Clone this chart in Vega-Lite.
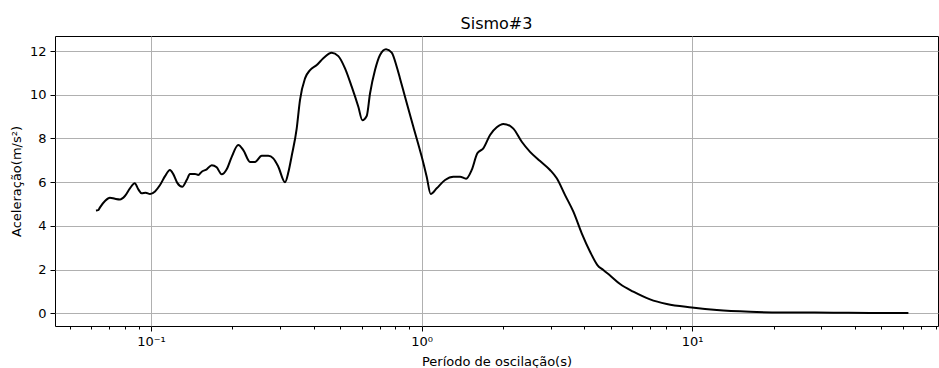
{
  "$schema": "https://vega.github.io/schema/vega-lite/v6.json",
  "width": 883,
  "height": 290,
  "autosize": {"type": "none"},
  "padding": {"left": 55, "top": 36, "right": 1, "bottom": 42},
  "background": "white",
  "config": {
    "font": "DejaVu Sans",
    "view": {"stroke": "black", "strokeWidth": 1},
    "axis": {
      "domain": false,
      "tickColor": "black",
      "tickWidth": 1,
      "labelColor": "black",
      "titleColor": "black",
      "labelFont": "DejaVu Sans",
      "titleFont": "DejaVu Sans",
      "labelFontSize": 13,
      "titleFontSize": 13,
      "titleFontWeight": "normal",
      "gridColor": "#b0b0b0",
      "gridWidth": 1,
      "gridOpacity": 1
    }
  },
  "title": {
    "text": "Sismo#3",
    "font": "DejaVu Sans",
    "fontSize": 16,
    "fontWeight": "normal",
    "color": "black",
    "anchor": "middle",
    "baseline": "bottom",
    "offset": 3,
    "dy": 15
  },
  "data": {
    "values": [
      {"T": 0.0626, "a": 4.70}, {"T": 0.0638, "a": 4.72}, {"T": 0.0648, "a": 4.85},
      {"T": 0.0676, "a": 5.14}, {"T": 0.0705, "a": 5.29}, {"T": 0.0736, "a": 5.24},
      {"T": 0.0768, "a": 5.21}, {"T": 0.0801, "a": 5.37}, {"T": 0.0836, "a": 5.72},
      {"T": 0.0871, "a": 5.95}, {"T": 0.0898, "a": 5.67}, {"T": 0.0924, "a": 5.49},
      {"T": 0.0956, "a": 5.52}, {"T": 0.0992, "a": 5.46}, {"T": 0.1035, "a": 5.58},
      {"T": 0.1080, "a": 5.87}, {"T": 0.1127, "a": 6.28}, {"T": 0.1175, "a": 6.56},
      {"T": 0.1209, "a": 6.37}, {"T": 0.1251, "a": 5.97}, {"T": 0.1305, "a": 5.79},
      {"T": 0.1355, "a": 6.10}, {"T": 0.1394, "a": 6.37}, {"T": 0.1455, "a": 6.38},
      {"T": 0.1496, "a": 6.33}, {"T": 0.1540, "a": 6.48}, {"T": 0.1607, "a": 6.59},
      {"T": 0.1677, "a": 6.78}, {"T": 0.1749, "a": 6.68}, {"T": 0.1825, "a": 6.36},
      {"T": 0.1905, "a": 6.59}, {"T": 0.1988, "a": 7.16}, {"T": 0.2102, "a": 7.70},
      {"T": 0.2194, "a": 7.47}, {"T": 0.2323, "a": 6.93}, {"T": 0.2424, "a": 6.93},
      {"T": 0.2566, "a": 7.21}, {"T": 0.2714, "a": 7.21}, {"T": 0.2832, "a": 7.09},
      {"T": 0.2955, "a": 6.71}, {"T": 0.3129, "a": 6.00}, {"T": 0.3219, "a": 6.45},
      {"T": 0.3312, "a": 7.20}, {"T": 0.3456, "a": 8.45}, {"T": 0.3554, "a": 9.76},
      {"T": 0.3710, "a": 10.75}, {"T": 0.3872, "a": 11.13}, {"T": 0.4100, "a": 11.36},
      {"T": 0.4335, "a": 11.67}, {"T": 0.4656, "a": 11.92}, {"T": 0.4925, "a": 11.77},
      {"T": 0.5214, "a": 11.21}, {"T": 0.5520, "a": 10.37}, {"T": 0.5840, "a": 9.45},
      {"T": 0.6042, "a": 8.84}, {"T": 0.6272, "a": 9.03}, {"T": 0.6451, "a": 10.06},
      {"T": 0.6731, "a": 11.13}, {"T": 0.7024, "a": 11.82}, {"T": 0.7394, "a": 12.08},
      {"T": 0.7759, "a": 11.93}, {"T": 0.8097, "a": 11.28}, {"T": 0.8326, "a": 10.75},
      {"T": 0.8688, "a": 9.91}, {"T": 0.9326, "a": 8.54}, {"T": 1.002, "a": 7.16},
      {"T": 1.045, "a": 6.25}, {"T": 1.081, "a": 5.46}, {"T": 1.138, "a": 5.72},
      {"T": 1.222, "a": 6.10}, {"T": 1.311, "a": 6.25}, {"T": 1.388, "a": 6.25},
      {"T": 1.461, "a": 6.16}, {"T": 1.533, "a": 6.56}, {"T": 1.608, "a": 7.32},
      {"T": 1.692, "a": 7.55}, {"T": 1.792, "a": 8.16}, {"T": 1.897, "a": 8.51},
      {"T": 2.006, "a": 8.66}, {"T": 2.124, "a": 8.58}, {"T": 2.185, "a": 8.45},
      {"T": 2.347, "a": 7.85}, {"T": 2.518, "a": 7.39}, {"T": 2.743, "a": 6.97},
      {"T": 2.985, "a": 6.56}, {"T": 3.161, "a": 6.18}, {"T": 3.393, "a": 5.41},
      {"T": 3.641, "a": 4.65}, {"T": 3.910, "a": 3.66}, {"T": 4.197, "a": 2.82},
      {"T": 4.467, "a": 2.21}, {"T": 4.700, "a": 1.98}, {"T": 4.977, "a": 1.73},
      {"T": 5.419, "a": 1.34}, {"T": 6.067, "a": 0.99}, {"T": 6.993, "a": 0.64},
      {"T": 8.062, "a": 0.43}, {"T": 9.975, "a": 0.27}, {"T": 12.34, "a": 0.15},
      {"T": 16.38, "a": 0.07}, {"T": 21.76, "a": 0.04}, {"T": 33.31, "a": 0.03},
      {"T": 45.5, "a": 0.02}, {"T": 63.04, "a": 0.01}
    ]
  },
  "layer": [
    {
      "mark": {"type": "line", "color": "black", "strokeWidth": 2, "interpolate": "monotone"},
      "encoding": {
        "x": {
          "field": "T",
          "type": "quantitative",
          "scale": {"type": "log", "domain": [0.04418, 81.1], "nice": false},
          "axis": {
            "orient": "bottom",
            "title": "Período de oscilação(s)",
            "values": [0.1, 1, 10],
            "labelExpr": "datum.value < 0.5 ? '10⁻¹' : (datum.value < 5 ? '10⁰' : '10¹')",
            "tickSize": 5,
            "labelPadding": 4,
            "titlePadding": 7,
            "grid": true,
            "labelFlush": false
          }
        },
        "y": {
          "field": "a",
          "type": "quantitative",
          "scale": {"domain": [-0.58, 12.69], "nice": false, "zero": false},
          "axis": {
            "title": "Aceleração(m/s²)",
            "values": [0, 2, 4, 6, 8, 10, 12],
            "tickSize": 5,
            "labelPadding": 4,
            "titlePadding": 6,
            "grid": true,
            "labelFlush": false
          }
        }
      }
    },
    {
      "mark": {"type": "line", "opacity": 0},
      "encoding": {
        "x": {
          "field": "T",
          "type": "quantitative",
          "axis": {
            "orient": "bottom",
            "title": null,
            "values": [0.05, 0.06, 0.07, 0.08, 0.09, 0.2, 0.3, 0.4, 0.5, 0.6, 0.7, 0.8, 0.9, 2, 3, 4, 5, 6, 7, 8, 9, 20, 30, 40, 50, 60, 70, 80],
            "labels": false,
            "tickSize": 3,
            "grid": false
          }
        },
        "y": {"field": "a", "type": "quantitative", "axis": null}
      }
    }
  ],
  "resolve": {"axis": {"x": "independent", "y": "independent"}}
}
